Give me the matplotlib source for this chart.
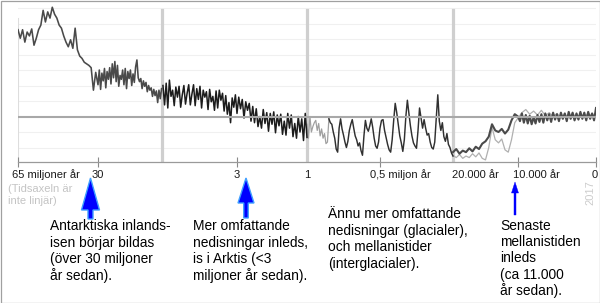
import numpy as np
import matplotlib
matplotlib.use("Agg")
import matplotlib.pyplot as plt
from matplotlib.patches import FancyArrow, Rectangle

plt.rcParams['font.family'] = ['Liberation Sans', 'DejaVu Sans']

# ---------------- data ----------------
# Segment 1: 65 -> 5.5 million years ago; temperature anomaly (deg C)
seg1_time_myr = [65, 64, 63, 62, 61, 60, 59, 58, 57, 56, 55, 54, 53, 52, 51, 50, 49, 48,
                 47, 46, 45, 44, 43, 42, 41, 40, 39, 38, 37, 36, 35, 34, 33, 32, 31, 30,
                 29.5, 29, 28.5, 28, 27.5, 27, 26.5, 26, 25.5, 25, 24.5, 24, 23.5, 23,
                 22.5, 22, 21.5, 21, 20.5, 20, 19.5, 19, 18.5, 18, 17.5, 17, 16.5, 16,
                 15.5, 15, 14.5, 14, 13.5, 13, 12.5, 12, 11.5, 11, 10.5, 10, 9.5, 9,
                 8.5, 8, 7.5, 7, 6.5, 6, 5.5]
seg1_temp = [11.2, 10.1, 11.2, 9.6, 10.9, 10.4, 11.3, 9.2, 10.1, 11.2, 11.8, 13.7, 12.2,
             13.5, 12.7, 14.1, 13.2, 12.7, 11.8, 11.4, 10.4, 9.6, 9.0, 9.9, 8.8, 11.4,
             8.6, 7.8, 7.5, 7.0, 6.8, 6.6, 6.3, 3.4, 5.7, 4.1,
             6.0, 3.5, 5.6, 4.6, 6.2, 3.7, 5.8, 4.8, 6.3, 4.2, 6.8, 5.0, 7.1, 4.5,
             6.6, 3.9, 5.3, 4.8, 6.0, 4.1, 6.2, 3.6, 5.8, 4.9, 6.0, 4.0, 5.5, 4.4,
             6.4, 7.3, 5.0, 4.5, 4.9, 3.6, 4.6, 3.9, 4.4, 3.2, 4.0, 3.4, 3.7, 2.6,
             3.5, 2.7, 3.3, 1.8, 3.4, 2.3, 3.6]

# Segment 2: 5.3 -> 1 million years ago
seg2_time_myr = [5.30, 5.25, 5.20, 5.15, 5.10, 5.05, 5.00, 4.95, 4.90, 4.85, 4.80, 4.75,
                 4.70, 4.65, 4.60, 4.55, 4.50, 4.45, 4.40, 4.35, 4.30, 4.25, 4.20, 4.15,
                 4.10, 4.05, 4.00, 3.95, 3.90, 3.85, 3.80, 3.75, 3.70, 3.65, 3.60, 3.55,
                 3.50, 3.45, 3.40, 3.35, 3.30, 3.25, 3.20, 3.15, 3.10, 3.05, 3.00, 2.95,
                 2.90, 2.85, 2.80, 2.75, 2.70, 2.65, 2.60, 2.55, 2.50, 2.45, 2.40, 2.35,
                 2.30, 2.25, 2.20, 2.15, 2.10, 2.05, 2.00, 1.95, 1.90, 1.85, 1.80, 1.75,
                 1.70, 1.65, 1.60, 1.55, 1.50, 1.45, 1.40, 1.35, 1.30, 1.25, 1.20, 1.15,
                 1.10, 1.05, 1.00]
seg2_temp = [4.0, 1.5, 4.3, 1.1, 4.7, 2.6, 3.4, 1.4, 3.8, 2.5, 3.9, 1.2,
             2.8, 4.0, 1.6, 3.0, 4.1, 1.5, 2.9, 4.1, 1.4, 3.6, 2.2, 3.9,
             1.1, 3.4, 2.5, 3.2, 0.9, 3.5, 1.9, 2.6, 0.8, 3.3, 1.1, 3.4,
             2.1, 3.0, 0.7, 2.7, 0.3, 1.8, -0.8, 2.4, 1.2, 2.8, 0.4, 2.5,
             1.0, 2.2, -0.2, 1.9, 0.8, 1.7, -0.6, 1.3, -0.8, 1.0, -1.3, 0.0,
             -1.5, 0.9, -0.9, 0.5, -1.9, 0.4, -1.0, 0.6, -2.1, 0.2, -1.2, 0.3,
             -2.3, -0.6, -2.4, 0.4, -1.5, 0.2, -2.6, -0.9, -2.8, 0.0, -2.0, -0.3,
             -3.1, 0.4, -2.7]

# Segment 3: 1 000 000 -> 20 000 years ago (kyr), light and dark records
seg3_light_time_kyr = [1000, 990, 980, 970, 960, 950, 940, 930, 920, 910, 900, 890,
                       880, 870, 860, 850]
seg3_light_temp = [-1.0, -2.8, 0.0, -2.0, -1.3, -0.8, -0.5, -1.8, -0.9, -2.5, -1.6,
                   -2.8, -2.2, -3.5, -3.3, -0.3]
seg3_dark_time_kyr = [850, 840, 830, 820, 810, 800, 790, 780, 770, 760, 750, 740, 730,
                      720, 710, 700, 690, 680, 670, 660, 650, 640, 630, 620, 610, 600,
                      590, 580, 570, 560, 550, 540, 530, 520, 510, 500, 490, 480, 470,
                      460, 450, 440, 430, 420, 410, 400, 390, 380, 370, 360, 350, 340,
                      330, 320, 310, 300, 290, 280, 270, 260, 250, 240, 230, 220, 210,
                      200, 190, 180, 170, 160, 150, 140, 130, 120, 110, 100, 90, 80,
                      70, 60, 50, 40, 30, 20]
seg3_dark_temp = [-0.3, -0.8, -1.0, -2.0, -2.8, -4.2, -4.6, -1.5, -0.3, -1.6, -2.4,
                  -3.3, -4.0, -3.2, -1.8, -1.0, -0.4, -1.5, -2.5, -3.0, -3.8, -3.4,
                  -4.4, -5.0, -2.5, -0.5, -1.5, -1.9, -1.2, -0.3, -1.4, -2.8, -3.8,
                  -4.1, -3.3, -1.5, -0.5, -0.4, -1.8, -2.7, -3.6, -4.3, -4.6, -3.0,
                  -0.5, 1.7, 0.5, -1.0, -2.5, -3.4, -4.5, -3.0, 0.0, 2.1, 0.4, -1.2,
                  -2.5, -3.4, -3.8, -4.1, -1.8, 1.1, -0.2, -1.5, -0.4, -1.5, -2.4,
                  -2.2, -3.3, -4.0, -4.2, -3.3, -0.2, 2.8, -0.6, -1.8, -0.8, -2.6,
                  -3.2, -2.2, -3.6, -4.0, -4.7, -5.1]

# Segment 4: 20 000 years ago -> today (kyr)
seg4_dark_time_kyr = [20, 19.5, 19, 18.5, 18, 17.5, 17, 16.5, 16, 15.5, 15, 14.5, 14,
                      13.5, 13, 12.5, 12, 11.5, 11, 10.5, 10,
                      9.75, 9.5, 9.25, 9, 8.75, 8.5, 8.25, 8, 7.75, 7.5, 7.25, 7,
                      6.75, 6.5, 6.25, 6, 5.75, 5.5, 5.25, 5, 4.75, 4.5, 4.25, 4,
                      3.75, 3.5, 3.25, 3, 2.75, 2.5, 2.25, 2, 1.75, 1.5, 1.25, 1,
                      0.75, 0.5, 0.25, 0]
seg4_dark_temp = [-4.6, -4.2, -4.8, -4.4, -4.6, -4.1, -4.5, -3.9, -4.2, -3.5, -3.2,
                  -2.6, -1.0, -1.8, -2.0, -1.6, -2.2, -1.7, -0.5, 0.3, 0.0,
                  -0.6, 0.4, -0.8, 0.2, -0.9, 0.1, -1.0, -0.1, -0.9, 0.2, -0.7, 0.3,
                  -0.8, 0.4, -0.5, 0.3, -0.7, 0.5, -0.4, 0.3, -0.6, 0.5, -0.3, 0.4,
                  -0.6, 0.6, -0.3, 0.5, -0.5, 0.4, -0.4, 0.6, -0.3, 0.5, -0.5, 0.6,
                  -0.3, 0.4, -0.5, 1.1]
seg4_light_time_kyr = [20, 19.5, 19, 18.5, 18, 17.5, 17, 16.5, 16, 15.5, 15, 14.5, 14,
                       13.5, 13, 12.5, 12, 11.5, 11, 10.5, 10, 9.5, 9, 8.5, 8, 7.5, 7,
                       6.5, 6, 5.5, 5, 4.5, 4, 3.5, 3, 2.5, 2, 1.5, 1, 0.5, 0]
seg4_light_temp = [-5.0, -5.3, -4.9, -5.4, -5.1, -5.3, -4.8, -5.2, -4.7, -5.4, -5.6,
                   -4.0, -1.4, -3.0, -3.4, -2.9, -4.3, -4.6, -3.0, -0.8, -0.2,
                   0.5, 0.9, 0.3, 0.7, 0.2, 0.8, 0.1, 0.5, 0.0, 0.4, -0.2, 0.3, -0.1,
                   0.4, -0.2, 0.3, -0.1, 0.4, 0.0, 0.5]

# Axis: ticks, labels, panel separators (million years ago)
tick_times = [65, 30, 3, 0.5, 0.01, 0]
label_times = [65, 30, 3, 1, 0.5, 0.02, 0.01, 0]
label_texts = ['65 miljoner år', '30', '3', '1', '0,5 miljon år', '20.000 år',
               '10.000 år', '0']
separator_times = [5.33, 1, 0.02]
grid_temps = [-4, -2, 2, 4, 6, 8, 10, 12, 14]

annot_texts = ["Antarktiska inlands-\nisen börjar bildas\n(över 30 miljoner\når sedan).",
               "Mer omfattande\nnedisningar inleds,\nis i Arktis (<3\nmiljoner år sedan).",
               "Ännu mer omfattande\nnedisningar (glacialer),\noch mellanistider\n(interglacialer).",
               "Senaste\nmellanistiden\ninleds\n(ca 11.000\når sedan)."]

# Non-linear time axis (piecewise), breakpoints of the original chart
scale_times = [0, 0.01, 0.02, 0.5, 1, 3, 5.33, 30, 65]
scale_pos = [0, -78, -143, -216, -289, -359, -434, -498, -578]


def fwd(t):
    # increasing function of time-before-present
    return -np.interp(t, scale_times, scale_pos)


def inv(p):
    return np.interp(-np.asarray(p), scale_pos[::-1], scale_times[::-1])


# ---------------- figure ----------------
W, H = 600, 303
fig = plt.figure(figsize=(W / 100, H / 100), dpi=100)
fig.patch.set_facecolor('white')

ax = fig.add_axes([18 / W, (H - 162) / H, 578 / W, 157 / H])
ax.set_xscale('function', functions=(fwd, inv))
ax.set_xlim(65, 0)
ax.set_ylim(-5.87, 14.39)
ax.set_facecolor('none')

for g in grid_temps:
    ax.axhline(g, color='#f0f0f0', lw=0.8, zorder=0)

for s in separator_times:
    ax.axvline(s, ymin=0, ymax=0.968, color='#cfcfcf', lw=2.3, zorder=1)
ax.axvline(65, ymin=0, ymax=0.92, color='#dddddd', lw=0.8, zorder=1)

ax.plot(np.array(seg3_light_time_kyr) / 1000.0, seg3_light_temp, color='#a0a0a0',
        lw=0.9, zorder=3)
ax.plot(np.array(seg4_light_time_kyr) / 1000.0, seg4_light_temp, color='#b0b0b0',
        lw=0.9, zorder=3)
ax.plot(seg1_time_myr, seg1_temp, color='#4a4a4a', lw=1.15, zorder=4)
ax.plot(seg2_time_myr, seg2_temp, color='#1c1c1c', lw=1.1, zorder=4)
ax.plot(np.array(seg3_dark_time_kyr) / 1000.0, seg3_dark_temp, color='#303030',
        lw=1.05, zorder=4)
ax.plot(np.array(seg4_dark_time_kyr) / 1000.0, seg4_dark_temp, color='#4a4a4a',
        lw=1.5, zorder=4)

ax.axhline(0, color='#a8a8a8', lw=1.5, zorder=5)

for side in ['top', 'right', 'left']:
    ax.spines[side].set_visible(False)
ax.spines['bottom'].set_color('#9a9a9a')
ax.spines['bottom'].set_linewidth(0.9)
ax.set_yticks([])
ax.set_xticks(tick_times)
ax.set_xticklabels([''] * len(tick_times))
ax.xaxis.set_minor_locator(matplotlib.ticker.NullLocator())
ax.tick_params(axis='x', direction='inout', length=7.2, width=0.8, color='#8a8a8a')

# tick labels (number part centred on the tick)
label_ha = ['left', 'center', 'center', 'center', 'left', 'left', 'left', 'center']
label_dx_px = [-6, -0.5, 0, 0.5, -10, -0.7, -4.7, -1]
for t, txt, ha, dx in zip(label_times, label_texts, label_ha, label_dx_px):
    ax.annotate(txt, xy=(t, 0), xycoords=ax.get_xaxis_transform(),
                xytext=(dx * 0.72, -16.5 * 0.72), textcoords='offset points',
                ha=ha, va='baseline', fontsize=8, color='#1a1a1a',
                annotation_clip=False)

# overlay in pixel coordinates for annotations
ov = fig.add_axes([0, 0, 1, 1], zorder=10)
ov.set_xlim(0, W)
ov.set_ylim(H, 0)
ov.axis('off')
ov.patch.set_alpha(0)

ov.text(8, 191.7, '(Tidsaxeln är', fontsize=8, color='#c4c4c4', va='baseline', ha='left')
ov.text(8, 203.5, 'inte linjär)', fontsize=8, color='#c4c4c4', va='baseline', ha='left')
ov.text(590, 193, '2017', fontsize=8, color='#cccccc', rotation=90,
        ha='center', va='center')

# arrows
arrow_specs = [(90.5, 219, 178, 5, 18, 32, True),
               (246, 218, 178, 4.5, 16, 25, True),
               (515, 215, 182, 2, 7, 11, False)]
for x, y0, y1, w, hw, hl, glow in arrow_specs:
    arr = FancyArrow(x, y0, 0, y1 - y0, width=w, head_width=hw, head_length=hl,
                     length_includes_head=True, facecolor='#0000ff',
                     edgecolor='#3fa0ff' if glow else '#0000ff',
                     lw=1.0 if glow else 0.3)
    ov.add_patch(arr)

# annotation texts, line by line
annot_pos = [(50, 230.5), (193, 230.5), (328, 218.5), (500.5, 229.5)]
line_step = 16.4
for txt, (x, y) in zip(annot_texts, annot_pos):
    for i, line in enumerate(txt.split('\n')):
        ov.text(x, y + i * line_step, line, fontsize=9.9, color='#000000',
                ha='left', va='baseline')

# outer border
ov.add_patch(Rectangle((0.5, 0.5), W - 1, H - 1, fill=False, edgecolor='#a0a0a0',
                       lw=0.9, clip_on=False))

fig.savefig('out.png', dpi=100, facecolor='white')
